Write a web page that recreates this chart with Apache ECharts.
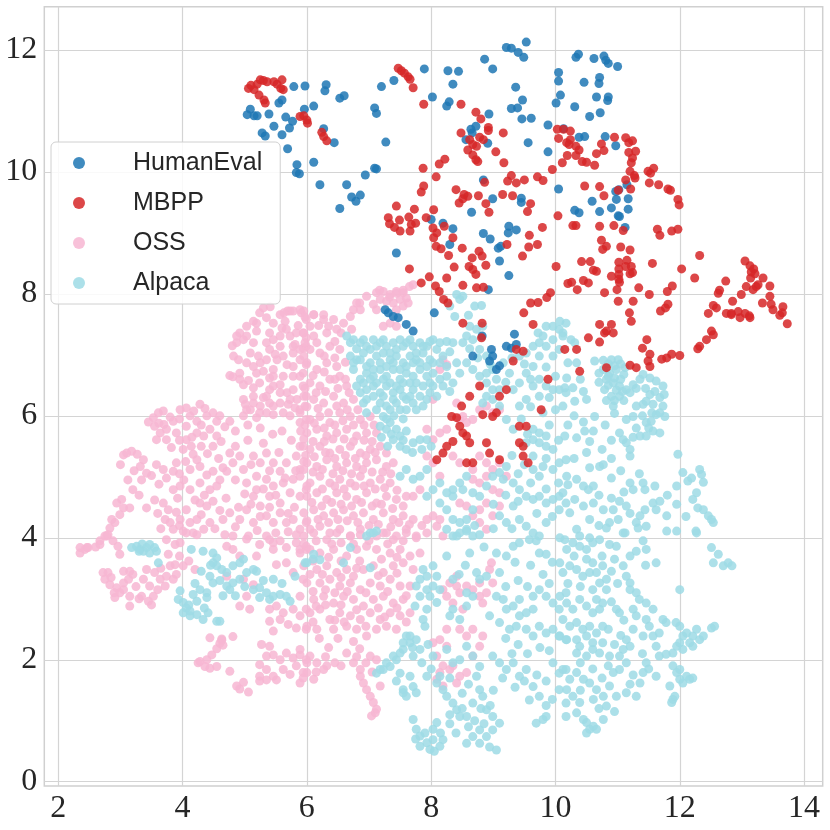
<!DOCTYPE html>
<html>
<head>
<meta charset="UTF-8">
<title>HumanEval / MBPP / OSS / Alpaca</title>
<script src="https://cdn.jsdelivr.net/npm/echarts@6/dist/echarts.min.js"></script>
<style>
  html, body { margin: 0; padding: 0; background: #fff; }
  #main { width: 830px; height: 830px; }
</style>
</head>
<body>
<div id="main"></div>
<script>
// tick values
var xTicks = [2, 4, 6, 8, 10, 12, 14];
var yTicks = [0, 2, 4, 6, 8, 10, 12];

// legend order
var seriesNames = ['HumanEval', 'MBPP', 'OSS', 'Alpaca'];

// HumanEval points
var humanEval = [
  [5.79,11.40],[5.55,11.13],[5.60,11.18],[5.04,10.94],[5.09,11.03],[5.15,10.92],[5.20,10.92],[5.39,10.95],[5.66,10.90],[5.77,10.83],
  [5.72,10.72],[5.47,10.75],[5.28,10.64],[5.33,10.59],[5.60,10.61],[5.69,10.38],[5.84,10.12],[5.83,9.99],[5.88,9.97],
  [5.97,11.41],[6.31,11.43],[6.29,11.33],[6.53,11.21],[6.60,11.25],[7.20,11.40],[7.40,11.50],[7.89,11.69],[8.27,11.66],[8.44,11.65],
  [8.35,11.44],[8.02,11.23],[8.29,11.15],[8.25,11.08],[8.86,11.85],[8.99,11.69],[9.21,12.04],[9.29,12.03],[9.40,11.96],[9.49,11.88],
  [9.53,12.13],[9.36,11.39],[9.47,11.18],[9.29,11.04],[9.39,11.05],[9.46,10.87],[9.61,10.88],[8.93,10.95],[8.64,10.70],[8.72,10.75],
  [8.56,10.53],[8.91,10.47],[8.66,10.64],[9.56,10.48],[9.88,10.77],[9.88,10.33],[5.96,11.03],[6.11,11.08],[6.27,10.71],[6.44,10.48],
  [7.09,11.05],[7.12,10.96],[7.27,10.49],[6.11,10.16],[6.21,9.79],[6.64,9.79],[6.72,9.59],[6.79,9.52],[6.86,9.62],[6.53,9.40],
  [6.94,9.95],[7.09,10.06],[7.12,10.05],[7.44,8.67],[8.84,9.87],[8.99,9.56],[8.65,9.34],[8.00,9.22],[8.19,9.16],[8.35,9.07],
  [8.30,8.81],[8.84,8.99],[8.95,8.90],[9.08,8.75],[9.12,8.78],[9.25,9.11],[9.24,9.00],[9.37,9.05],[9.10,8.54],[9.25,8.30],
  [8.92,8.07],[8.05,7.69],[9.45,9.57],[9.45,9.50],
  [10.33,11.88],[10.37,11.93],[10.62,11.86],[10.78,11.90],[10.81,11.83],[10.85,11.78],[11.00,11.73],[10.05,11.63],[10.05,11.49],[10.08,11.26],
  [10.01,11.13],[10.46,11.47],[10.71,11.55],[10.70,11.45],[10.66,11.23],[10.85,11.23],[10.84,11.17],[10.31,11.07],[10.55,10.91],[10.72,10.97],
  [10.13,10.71],[10.38,10.57],[10.47,10.58],[10.80,10.58],[10.97,10.43],[10.05,9.72],[10.97,9.68],[11.02,9.71],[11.15,9.79],[10.59,9.52],
  [10.98,9.55],[11.17,9.56],[10.31,9.37],[10.38,9.33],[10.71,9.35],[10.90,9.41],[11.17,9.39],[11.01,9.28],[11.03,9.27],[11.12,9.09],
  [7.26,7.74],[7.31,7.69],[7.39,7.63],[7.47,7.61],[7.60,7.50],[7.71,7.39],[8.82,7.31],[9.34,7.34],[9.21,7.14],[9.29,7.11],
  [9.37,7.17],[8.97,7.09],[8.99,6.98],[8.94,6.90],[8.67,6.98],[9.10,6.82],[9.05,6.76]
];

// MBPP points
var mbpp = [
  [5.06,11.37],[5.15,11.35],[5.25,11.51],[5.36,11.48],[5.31,11.18],[5.33,11.13],[5.47,11.48],[5.60,11.51],[5.58,11.37],[5.62,11.35],
  [5.23,11.26],[5.10,11.42],[5.20,11.44],[5.30,11.50],[5.52,11.44],
  [5.89,10.91],[5.95,10.92],[6.00,10.85],[6.01,10.80],[6.24,10.65],[6.27,10.58],[6.32,10.51],[7.47,11.70],[7.52,11.66],[7.57,11.62],
  [7.63,11.56],[7.66,11.52],[7.71,11.38],[7.88,11.11],[8.48,11.11],[8.72,10.98],[8.80,10.87],[8.92,10.73],[8.92,10.68],[9.16,10.64],
  [8.48,10.64],[8.62,10.53],[8.67,10.45],[8.73,10.42],[8.78,10.57],[8.84,10.53],[8.59,10.36],[8.67,10.28],[8.72,10.20],[8.75,10.17],
  [9.04,10.33],[9.17,10.15],[8.13,10.13],[8.22,10.21],[7.87,10.06],[8.08,9.92],[7.88,9.77],[7.84,9.67],[8.40,9.71],[8.53,9.63],
  [8.45,9.49],[8.51,9.56],[8.59,9.60],[8.76,9.61],[8.88,9.48],[8.93,9.34],[9.15,9.63],[9.31,9.61],[8.86,9.83],[9.23,9.85],
  [9.29,9.94],[9.37,9.82],[9.50,9.87],[9.71,9.92],[9.80,9.86],[9.60,9.48],[9.55,9.35],[7.44,9.44],[7.73,9.39],[7.64,9.26],
  [7.49,9.21],[7.31,9.25],[7.33,9.15],[7.41,9.09],[7.50,9.03],[7.68,9.14],[7.75,9.16],[7.66,9.03],[7.92,9.25],[8.04,9.38],
  [8.03,9.08],[8.09,9.00],[8.04,8.92],[8.21,9.11],[8.35,8.92],[8.08,8.78],[8.16,8.74],[8.28,8.63],[8.50,8.75],[8.77,8.70],
  [8.82,8.62],[8.66,8.59],[8.61,8.45],[8.67,8.40],[8.72,8.32],[8.88,8.47],[8.37,8.44],[8.25,8.26],[7.65,8.41],[7.84,8.18],
  [7.97,8.28],[8.07,8.13],[8.13,8.04],[8.51,8.14],[8.73,8.10],[8.84,8.11],[8.20,7.91],[8.27,7.85],[9.47,8.62],[9.22,8.81],
  [9.57,8.77],[9.71,8.81],[9.79,9.09],[9.58,8.96],[9.49,7.69],[9.60,7.85],[9.72,7.86],
  [8.51,7.52],[8.82,7.52],[8.81,7.28],[9.64,7.50],[9.32,6.90],[9.88,6.60],[9.77,6.10],[9.21,6.43],[9.10,6.32],[8.78,6.49],
  [8.62,6.32],[8.49,6.16],[8.33,5.99],[8.41,5.97],[8.46,5.83],[8.51,5.72],[8.35,5.58],[8.25,5.50],[8.19,5.39],[8.09,5.28],
  [8.57,5.67],[8.62,5.56],[8.67,5.23],[8.57,5.23],[8.89,5.56],[8.94,5.39],[9.10,5.28],[9.42,5.56],[9.48,5.50],[9.42,5.83],
  [9.53,5.83],[9.48,5.34],[9.56,5.23],[9.05,6.05],[8.99,5.99],[8.83,6.02],[9.37,7.09],[9.48,7.06],
  [10.03,10.70],[10.13,10.70],[10.24,10.67],[10.05,10.55],[10.18,10.48],[10.24,10.53],[10.22,10.45],[10.33,10.42],[10.38,10.36],[10.33,10.27],
  [10.19,10.27],[10.43,10.17],[10.50,10.16],[10.63,10.11],[10.11,10.15],[9.95,10.04],[10.66,10.30],[10.74,10.46],[10.78,10.35],[10.95,10.57],
  [11.13,10.56],[11.18,10.48],[11.24,10.51],[11.18,10.32],[11.29,10.34],[11.24,10.23],[11.22,10.15],[11.20,10.01],[11.27,9.94],[11.28,9.90],
  [11.13,9.87],[11.21,9.72],[11.49,10.01],[11.58,10.06],[11.53,9.98],[11.51,9.82],[11.66,9.79],[11.81,9.72],[11.85,9.70],[11.97,9.55],
  [11.99,9.46],[10.47,9.77],[10.71,9.76],[10.78,9.61],[11.01,9.70],[10.04,9.28],[10.28,9.12],[10.33,9.12],[10.71,9.11],[10.94,9.12],
  [11.09,9.04],[11.64,9.06],[11.68,8.96],[11.87,9.03],[11.97,9.06],[10.74,8.88],[10.82,8.78],[10.76,8.73],[11.05,8.77],[11.20,8.72],
  [10.01,8.45],[10.42,8.53],[10.56,8.53],[10.61,8.39],[10.66,8.37],[11.02,8.52],[11.15,8.55],[11.02,8.41],[11.13,8.45],[11.22,8.45],
  [11.24,8.35],[11.20,8.33],[11.02,8.32],[11.02,8.24],[10.90,8.29],[11.03,8.19],[10.99,8.07],[11.56,8.50],[10.20,8.17],[10.26,8.19],
  [10.45,8.22],[10.53,8.18],[10.35,8.07],[10.79,8.02],[11.34,8.10],[11.51,7.99],[11.80,8.04],[11.88,8.13],[12.32,8.63],[12.03,8.41],
  [12.24,8.26],[9.92,8.02],[9.86,7.94],[11.01,7.88],[11.25,7.88],[11.69,7.72],[11.81,7.83],[11.77,7.77],[11.19,7.69],
  [13.05,8.54],[13.13,8.46],[13.19,8.41],[13.15,8.36],[13.14,8.26],[13.21,8.33],[13.34,8.26],[13.45,8.13],[13.26,8.15],[13.23,8.12],
  [13.18,8.07],[13.07,8.12],[12.99,7.99],[13.45,7.96],[13.33,7.85],[13.47,7.83],[13.50,7.74],[13.66,7.79],[13.65,7.69],[13.61,7.65],
  [12.74,8.21],[12.64,8.06],[12.62,8.01],[12.85,7.88],[12.54,7.81],[12.59,7.77],[12.46,7.68],[12.75,7.68],[12.83,7.68],[12.94,7.71],
  [13.05,7.68],[13.12,7.64],[13.13,7.61],[12.97,7.61],[12.83,7.66],
  [11.22,7.55],[10.71,7.50],[10.90,7.50],[10.82,7.39],[10.93,7.36],[10.79,7.36],[10.53,7.28],[10.71,7.21],[10.15,7.09],[10.34,7.09],
  [10.39,6.73],[11.47,7.25],[11.40,7.11],[11.52,7.01],[11.49,6.90],[11.52,6.81],[11.30,6.79],[11.71,6.93],[11.79,6.95],[11.87,7.01],
  [12.00,6.99],[12.51,7.39],[12.54,7.33],[12.43,7.25],[12.32,7.14],[12.29,7.10],[13.73,7.51],[11.20,6.83],[10.82,6.79]
];

// OSS points
var oss = [
  [5.30,7.77],[5.41,7.79],[5.57,7.66],[5.69,7.72],[5.78,7.72],[5.91,7.69],[5.99,7.58],[5.14,7.55],[5.19,7.52],[5.35,7.61],
  [5.65,7.55],[5.60,7.44],[5.86,7.48],[5.94,7.36],[4.92,7.36],[4.98,7.25],[4.87,7.20],[4.80,7.15],[5.03,7.31],[5.19,7.39],
  [5.40,7.36],[5.46,7.25],[5.73,7.31],[5.81,7.17],[5.78,7.03],[5.94,7.11],[5.99,7.28],[5.09,7.03],[5.22,6.98],[5.40,7.09],
  [5.49,7.01],[5.57,7.14],[5.52,6.92],[5.68,6.84],[5.89,6.92],[5.99,6.84],[4.90,6.92],[5.25,6.87],[5.30,6.73],[5.46,6.76],
  [5.40,6.62],[5.19,6.70],[4.76,6.66],[4.81,6.64],[4.92,6.60],[5.06,6.58],[5.14,6.46],[4.98,6.51],[5.46,6.49],[5.57,6.51],
  [5.68,6.38],[5.78,6.43],[5.94,6.49],[5.84,6.27],[5.97,6.16],[4.98,6.27],[5.01,6.19],[5.09,6.10],[5.14,6.21],[5.25,6.16],
  [5.30,6.30],[5.40,6.21],[5.46,6.02],[5.62,6.05],[5.70,6.19],[5.81,6.13],[4.98,6.00],[5.19,5.97],[5.35,6.05],[5.73,6.00],
  [5.89,5.89],[5.99,5.94],
  [5.24,7.69],[5.46,7.52],[5.67,7.42],[5.83,7.36],[6.05,7.47],[5.03,7.47],[4.87,7.31],[5.14,7.20],[5.35,7.20],[5.57,7.31],
  [5.78,7.14],[5.99,7.14],[4.82,6.98],[5.03,6.87],[5.35,6.92],[5.62,6.98],[5.78,6.81],[5.94,6.70],[5.14,6.81],[5.46,6.65],
  [5.62,6.65],[5.78,6.65],[4.92,6.70],[5.24,6.54],[5.40,6.43],[5.57,6.38],[5.73,6.27],[5.99,6.32],[5.14,6.32],[5.35,6.32],
  [5.57,6.21],[5.89,6.10],[5.03,6.10],[5.24,6.05],[5.46,6.16],
  [3.53,5.97],[3.61,6.05],[3.69,6.08],[3.55,5.83],[3.64,5.72],[3.74,5.78],[3.58,5.61],[3.85,5.91],[3.90,5.72],[3.96,6.10],
  [4.06,6.13],[4.12,6.00],[4.23,5.91],[4.28,6.19],[4.39,6.00],[4.49,6.05],[4.55,5.91],[4.44,5.78],[4.23,5.72],[4.55,5.67],
  [4.34,5.67],[4.76,5.91],[4.06,5.83],[3.74,5.61],[4.06,5.61],[4.14,5.50],[4.49,5.50],
  [3.45,5.90],[3.62,5.88],[3.80,5.98],[3.70,5.86],[3.95,5.95],[4.18,6.08],[4.36,6.12],[4.60,6.00],[4.68,5.82],[4.30,5.85],
  [4.15,5.65],[3.95,5.60],[3.82,5.48],[4.30,5.50],[4.62,5.58],[4.40,5.38],[4.58,5.30],[4.05,5.25],[3.95,5.05],[4.12,5.12],
  [3.58,5.20],[3.50,5.02],[3.62,4.88],[4.02,4.95],[4.65,5.15],[4.55,4.85],[4.70,4.65],[4.60,4.45],[4.35,4.70],[4.20,4.62],
  [3.92,4.65],[3.55,4.62],[3.60,4.40],[3.90,4.42],[4.30,4.38],[4.52,4.15],[4.68,4.05],[3.65,4.15],[3.95,4.20],[3.30,4.70],
  [3.22,5.10],[3.00,5.20],[3.12,4.95],
  [3.10,5.39],[3.18,5.42],[3.27,5.37],[3.37,5.28],[3.32,5.17],[3.42,5.06],[3.34,4.95],[3.20,4.79],[3.05,5.36],
  [3.69,5.12],[3.85,5.09],[3.74,4.98],[3.90,5.23],[4.01,5.45],[4.17,5.37],[4.23,5.28],[4.28,5.17],[4.39,5.03],[4.49,5.09],
  [4.60,4.95],[4.44,4.79],[4.28,4.90],[4.12,4.79],[3.96,4.85],[3.85,4.79],
  [4.76,5.39],[4.81,5.23],[4.71,5.09],[4.92,5.34],[4.98,5.12],[5.14,5.34],[5.03,4.90],[5.19,5.01],[5.25,5.23],[5.35,5.39],
  [5.46,5.23],[5.57,5.09],[5.67,5.23],[5.83,5.34],[5.94,5.50],[5.89,5.12],[5.78,4.96],[5.62,4.90],[5.46,4.85],[5.35,4.96],
  [5.19,4.79],[5.14,4.68],[5.40,4.68],[5.57,4.57],[5.73,4.74],[5.89,4.68],[5.99,4.79],
  [4.85,5.50],[5.05,5.60],[5.30,5.55],[5.55,5.40],[5.75,5.60],[5.90,5.75],[5.60,5.75],[5.25,5.80],[5.05,5.85],[4.85,5.75],
  [5.45,5.70],[5.10,5.20],[5.40,5.10],[5.65,4.98],[5.82,5.10],[5.95,5.25],[4.85,4.95],[5.00,4.72],[5.30,4.80],[5.50,4.70],
  [5.80,4.50],[5.70,4.40],[5.40,4.50],[5.10,4.55],[4.90,4.50],[4.85,4.18],[5.20,4.12],[5.50,4.08],[5.70,4.10],[5.25,4.35],
  [2.94,4.57],[3.02,4.63],[3.05,4.49],[2.99,4.38],[2.91,4.25],[2.86,4.30],[2.83,4.16],[3.15,4.49],[3.42,4.49],
  [3.69,4.57],[3.77,4.46],[3.72,4.30],[3.80,4.25],[3.85,4.14],[3.96,4.30],[4.06,4.46],[4.12,4.25],[4.23,4.30],[4.28,4.57],
  [4.39,4.52],[4.49,4.60],[4.44,4.25],[4.34,4.14],[4.17,4.08],[4.01,4.11],
  [4.65,4.30],[4.76,4.41],[4.92,4.30],[5.03,4.46],[5.14,4.25],[5.25,4.52],[5.35,4.36],[5.46,4.25],[5.57,4.41],[5.67,4.25],
  [5.78,4.30],[5.89,4.14],[5.99,4.25],[4.81,4.03],[5.03,3.98],[5.35,4.03],[5.46,3.92],[5.83,3.92],[5.99,3.86],
  [2.67,3.95],[2.78,4.03],[2.46,3.84],[2.35,3.84],
  [2.35,3.75],[2.43,3.81],[2.48,3.84],[2.67,3.89],[2.75,4.03],[2.80,4.05],[2.96,3.86],[2.99,3.73],
  [2.72,3.43],[2.80,3.43],[2.75,3.32],[2.83,3.23],[2.94,3.18],[3.05,3.26],[3.13,3.32],[2.99,3.10],[3.15,3.04],[2.91,3.02],
  [3.15,2.88],[3.05,3.45],[3.15,3.45],[3.37,3.32],[3.47,3.21],[3.53,3.04],[3.45,2.96],[3.34,3.04],[3.42,3.48],[3.55,3.43],
  [3.64,3.32],[3.74,3.37],[3.72,3.21],[3.85,3.32],[3.90,3.40],[3.80,3.54],[3.88,3.56],[4.01,3.54],[4.20,3.48],[3.77,3.73],
  [3.74,3.97],[3.88,3.89],[3.96,3.92],[4.06,4.08],[4.23,4.05],
  [2.85,3.35],[2.90,3.10],[3.05,3.15],[3.25,3.20],[3.20,3.40],[3.60,3.15],[3.65,3.50],[3.95,3.70],[4.10,3.62],[3.30,3.00],
  [3.50,2.90],[2.60,3.85],[2.88,3.95],
  [4.71,3.86],[4.81,3.81],[4.92,3.70],[5.06,4.03],[5.19,3.70],[5.24,3.89],[5.40,3.97],[5.57,3.95],[5.46,3.81],[5.67,3.84],
  [5.83,4.05],[5.89,3.75],[5.99,3.81],[5.67,3.59],[5.51,3.56],[5.78,3.43],[5.94,3.32],[4.71,3.37],[4.98,3.32],[5.14,3.23],
  [5.03,3.04],[4.92,2.88],[5.08,2.83],[5.40,2.83],[5.51,2.88],[5.62,2.77],[5.78,2.83],[5.89,2.72],[5.99,2.83],[5.40,2.63],
  [5.57,2.66],[5.70,2.58],[5.83,2.52],[5.99,2.50],[5.46,2.47],
  [4.44,2.36],[4.63,2.34],[4.81,2.38],[4.60,2.27],[4.55,2.18],[4.47,2.08],[4.39,2.00],[4.28,1.97],[4.25,1.95],[4.36,1.89],
  [4.44,1.86],[4.55,1.89],[4.76,1.81],[4.63,2.32],[4.65,2.24],[4.87,1.57],[4.92,1.52],[4.98,1.63],[5.06,1.47],
  [5.27,2.25],[5.40,2.22],[5.35,2.06],[5.46,2.08],[5.57,2.00],[5.67,2.11],[5.78,2.03],[5.89,2.08],[5.99,2.00],[5.24,1.92],
  [5.35,1.84],[5.46,1.73],[5.62,1.84],[5.73,1.76],[5.83,1.90],[5.94,1.79],[5.24,1.73],[5.35,1.67],[5.51,1.67],[5.24,1.65],
  [5.94,1.70],
  [7.12,8.02],[7.23,8.04],[7.34,7.99],[7.44,8.04],[7.55,8.02],[7.60,7.93],[7.50,7.91],[7.39,7.85],[7.28,7.88],[7.18,7.91],
  [7.07,7.83],[7.12,7.74],[7.44,7.74],[7.55,7.80],[7.63,7.85],[7.34,7.52],[7.44,7.47],[7.23,7.47],
  [7.17,8.06],[7.33,7.95],[7.44,8.01],[7.55,8.06],[7.65,8.12],[7.71,8.15],[6.85,7.85],[6.75,7.74],[6.27,7.66],[6.11,7.66],
  [5.95,7.72],[5.73,7.72],[5.63,7.69],
  [5.89,7.74],[6.11,7.66],[6.27,7.58],[6.43,7.58],[5.95,7.36],[6.11,7.31],[6.32,7.36],[6.48,7.42],[6.59,7.52],[6.70,7.63],
  [6.80,7.85],[6.86,7.74],[6.96,7.96],[5.89,7.09],[6.05,7.09],[6.21,7.03],[6.37,7.14],[6.53,7.09],[6.00,6.87],[6.16,6.76],
  [6.32,6.87],[6.48,6.81],[5.89,6.65],[6.05,6.54],[6.21,6.49],[6.37,6.60],[6.53,6.65],[6.64,6.49],[5.95,6.32],[6.11,6.27],
  [6.27,6.21],[6.43,6.32],[6.59,6.21],[6.75,6.27],[5.89,6.05],[6.05,5.94],[6.21,5.99],[6.37,5.89],[6.53,6.05],[6.70,5.99],
  [6.86,5.94],[7.02,5.99],[6.00,5.72],[6.16,5.78],[6.32,5.67],[6.48,5.72],[6.64,5.78],[6.80,5.67],[6.96,5.72],[7.12,5.72],
  [5.89,5.50],[6.05,5.45],[6.21,5.50],[6.37,5.39],[6.53,5.45],[6.70,5.50],[6.86,5.39],[7.02,5.45],[7.18,5.50],[7.28,5.39],
  [6.00,5.23],[6.16,5.17],[6.32,5.28],[6.48,5.17],[6.64,5.23],[6.80,5.17],[6.96,5.23],[7.12,5.28],[7.28,5.17],[7.39,5.23],
  [5.89,5.01],[6.05,4.90],[6.21,5.01],[6.37,4.90],[6.53,4.96],[6.70,4.90],[6.86,5.01],[7.02,4.90],[7.18,4.96],[7.34,4.90],
  [6.00,4.68],[6.16,4.74],[6.32,4.63],[6.48,4.74],[6.64,4.68],[6.80,4.63],[6.96,4.74],[7.12,4.57],[7.28,4.68],[7.44,4.63],
  [7.60,4.68],[5.95,4.41],[6.11,4.46],[6.27,4.36],[6.43,4.41],[6.59,4.46],[6.75,4.36],[6.91,4.41],[7.07,4.30],[7.23,4.41],
  [7.39,4.30],[7.55,4.36],[7.71,4.30],[6.05,4.14],[6.21,4.19],[6.37,4.08],[6.53,4.14],[6.70,4.03],[6.86,4.14],[7.12,4.03],
  [7.28,4.08],[7.44,4.03],[7.60,4.14],[7.76,4.03],[7.93,4.08],[8.09,4.19],[8.19,4.03],
  [5.97,7.62],[6.19,7.48],[6.35,7.47],[6.55,7.36],[6.72,7.42],[5.97,7.20],[6.16,7.20],[6.45,7.22],[6.28,6.98],[6.45,6.95],
  [6.62,6.88],[5.95,6.98],[6.10,6.66],[6.28,6.72],[6.45,6.60],[6.62,6.60],[5.97,6.45],[6.15,6.38],[6.30,6.40],[6.50,6.45],
  [6.68,6.38],[6.00,6.15],[6.18,6.12],[6.35,6.05],[6.48,6.16],[6.65,6.10],[6.82,6.10],[5.97,5.85],[6.12,5.88],[6.28,5.80],
  [6.45,5.85],[6.58,5.92],[6.75,5.85],[6.92,5.85],[7.08,5.85],[5.95,5.62],[6.10,5.58],[6.28,5.58],[6.42,5.62],[6.60,5.62],
  [6.75,5.58],[6.92,5.60],[7.05,5.58],[5.98,5.35],[6.12,5.33],[6.30,5.40],[6.45,5.30],[6.62,5.35],[6.78,5.30],[6.95,5.35],
  [7.10,5.40],[5.95,5.12],[6.10,5.08],[6.25,5.12],[6.42,5.05],[6.58,5.10],[6.72,5.05],[6.90,5.12],[7.05,5.08],[7.22,5.08],
  [7.35,5.05],[6.00,4.85],[6.25,4.80],[6.45,4.85],[6.60,4.80],[6.78,4.85],[6.92,4.85],[7.10,4.80],[7.25,4.82],[7.45,4.78],
  [6.08,4.58],[6.24,4.52],[6.40,4.58],[6.55,4.55],[6.72,4.52],[6.88,4.58],[7.05,4.52],[7.20,4.55],[7.38,4.48],[7.55,4.52],
  [6.00,4.28],[6.18,4.30],[6.35,4.25],[6.50,4.30],[6.65,4.28],[6.82,4.25],[7.00,4.20],[7.15,4.22],[7.35,4.18],[7.48,4.25],
  [7.65,4.22],[7.85,4.20],
  [8.19,6.92],[8.25,6.84],[8.14,6.76],[8.03,6.27],[8.41,6.21],[8.51,5.99],[8.46,5.94],[8.57,5.89],[8.67,5.94],[8.78,6.10],
  [8.89,6.16],[8.99,6.05],[9.10,6.10],[7.93,5.78],[8.03,5.61],[8.14,5.72],[8.25,5.78],[8.35,5.34],[8.46,5.23],[8.67,5.12],
  [8.78,5.34],[8.89,5.23],[8.99,5.12],[9.10,5.23],[9.21,5.01],[8.89,5.01],[8.78,4.90],[8.67,4.96],[8.99,4.79],[9.10,4.74],
  [8.89,4.57],[8.78,4.46],[8.99,4.36],[9.10,4.52],[7.93,5.34],[8.03,5.23],[8.14,5.01],[8.03,4.36],[8.14,4.30],[7.93,4.30],
  [7.82,4.79],[7.71,4.68],[8.46,4.57],[8.57,4.52],[8.67,4.36],[8.78,4.25],[8.89,4.14],
  [5.95,4.03],[6.11,4.08],[6.32,3.97],[6.48,4.08],[6.70,4.03],[6.86,4.05],[7.23,4.08],[7.39,3.97],[7.60,4.08],[7.76,4.00],
  [5.89,3.81],[6.05,3.81],[6.21,3.75],[6.43,3.81],[6.64,3.70],[6.80,3.81],[6.96,3.86],[7.12,3.81],[7.34,3.75],[7.50,3.81],
  [7.66,3.70],[7.82,3.75],[5.95,3.54],[6.16,3.48],[6.32,3.54],[6.48,3.43],[6.64,3.48],[6.75,3.37],[6.91,3.48],[7.07,3.54],
  [7.23,3.43],[7.39,3.54],[7.55,3.59],[7.71,3.48],[6.00,3.26],[6.21,3.26],[6.37,3.32],[6.53,3.21],[6.70,3.26],[6.86,3.15],
  [7.02,3.26],[7.18,3.21],[7.34,3.32],[7.50,3.21],[7.66,3.21],[5.89,3.04],[6.11,2.99],[6.27,3.04],[6.43,2.93],[6.59,3.04],
  [6.75,2.99],[6.91,2.88],[7.07,2.99],[7.23,3.04],[7.39,2.93],[7.55,2.99],[6.05,2.77],[6.21,2.83],[6.37,2.66],[6.53,2.77],
  [6.70,2.72],[6.86,2.66],[7.02,2.77],[7.18,2.66],[7.34,2.77],[7.50,2.72],[7.66,2.77],[6.00,2.55],[6.16,2.50],[6.43,2.50],
  [6.64,2.55],[6.80,2.50],[6.96,2.39],[7.12,2.50],[7.28,2.55],[7.44,2.50],[5.89,2.17],[6.05,2.06],[6.16,1.95],[6.27,1.84],
  [6.00,1.79],[6.11,1.68],[5.89,1.62],[6.32,1.90],[6.64,2.11],[6.75,1.95],[6.86,1.84],[7.02,2.06],[7.12,2.00],[6.91,1.62],
  [6.96,1.51],[7.02,1.40],[7.07,1.30],[7.10,1.13],[7.12,1.19],[7.04,1.08],[7.18,1.57],[6.86,1.73],
  [5.95,3.90],[6.15,3.95],[6.40,3.90],[6.55,3.92],[6.75,3.90],[7.00,3.95],[7.30,3.90],[7.55,3.95],[6.10,3.62],[6.35,3.68],
  [6.55,3.62],[6.85,3.62],[7.20,3.65],[7.45,3.68],[6.05,3.40],[6.25,3.40],[6.55,3.35],[6.80,3.50],[7.15,3.38],[7.45,3.42],
  [6.10,3.12],[6.30,3.15],[6.45,3.10],[6.65,3.12],[6.95,3.10],[7.30,3.12],[7.60,3.05],[6.15,2.88],[6.30,2.90],[6.55,2.90],
  [6.80,2.82],[7.15,2.85],[7.45,2.85],[6.10,2.62],[6.45,2.65],[6.60,2.62],[6.95,2.55],[7.25,2.70],[7.60,2.62],[6.20,2.35],
  [6.35,2.20],[6.50,2.35],[6.75,2.30],[6.85,2.18],[6.30,2.05],[6.45,1.95],[6.00,1.95],[6.15,1.80],[6.55,1.90],[7.05,1.80],
  [6.95,1.95],[6.80,2.05],
  [8.19,3.15],[8.30,3.26],[8.41,3.21],[8.25,3.04],[8.35,2.93],[8.46,3.10],[8.57,3.21],[8.67,3.15],[8.78,3.04],[8.89,3.10],
  [8.94,3.48],[8.97,3.59],[8.99,3.26],[8.83,2.93],[8.46,2.50],[8.25,2.50],[8.14,2.33],[8.25,2.22],[8.03,2.28],[8.09,2.06],
  [8.19,1.90],[8.14,1.79],[8.30,1.84],[8.46,1.73],[8.57,1.79],[8.67,2.06],[8.78,2.22],[8.67,2.50],[8.83,2.39],[8.57,2.39],
  [8.41,1.62],[8.19,1.57],[8.09,1.68],[8.35,1.90],[8.78,3.26],[8.51,2.83],[8.41,3.37]
];

// Alpaca points
var alpaca = [
  [3.18,3.84],[3.26,3.86],[3.31,3.81],[3.37,3.78],[3.42,3.84],[3.47,3.89],[3.55,3.84],[3.58,3.78],[3.47,3.75],[3.61,3.59],
  [3.35,3.90],[3.30,3.78],
  [4.14,3.81],[4.33,3.78],[4.49,3.75],[4.55,3.67],[4.49,3.59],[4.55,3.54],[4.63,3.48],[4.44,3.37],[4.49,3.26],[4.39,3.10],
  [4.28,3.15],[3.96,3.13],[3.93,2.99],[4.01,2.94],[4.06,2.85],[4.12,2.72],[4.23,2.74],[4.33,2.66],[4.41,2.77],[4.55,2.63],
  [4.60,2.63],[4.17,3.07],[4.23,2.96],[4.39,3.02],[4.01,2.77],[4.12,2.80],
  [4.60,3.30],[4.65,3.05],[4.85,3.05],[5.00,3.20],[5.30,3.30],[5.60,3.25],[4.30,3.45],[4.20,3.25],[4.45,3.55],[4.10,2.90],
  [4.35,2.85],
  [4.71,3.21],[4.76,3.15],[4.81,3.26],[4.92,3.32],[5.03,3.43],[5.14,3.48],[5.19,3.45],[4.92,3.59],[4.98,3.65],[4.81,3.54],
  [4.71,3.43],[5.14,3.15],[5.24,3.18],[5.35,3.10],[5.46,3.04],[5.57,3.07],[5.67,3.04],[5.73,2.96],[5.40,2.99],[5.24,3.02],
  [5.46,3.32],[5.81,3.37],[5.97,3.59],[6.10,3.65],
  [7.02,4.08],[7.12,4.11],[8.35,4.03],[8.46,4.08],[8.57,4.11],[8.67,4.03],[8.78,4.05],[6.70,3.84],[6.59,3.59],[6.11,3.73],
  [6.00,3.59],[6.21,3.64],[7.02,3.51],
  [7.87,3.48],[7.93,3.37],[8.03,3.54],[7.82,3.32],[7.76,3.21],[7.93,3.15],[8.03,3.21],[8.14,3.15],[8.09,3.37],[7.98,3.04],
  [7.82,3.04],[7.74,2.88],[7.93,2.83],[7.87,2.66],[7.90,2.55],[8.09,2.94],
  [8.25,3.70],[8.35,3.32],[8.62,3.75],[8.73,3.43],[8.78,3.32],[8.57,3.10],[8.67,3.04],[8.35,2.83],[8.46,2.66],[8.30,2.72],
  [8.57,2.88],[8.89,3.37],[9.10,3.43],[9.21,3.70],[9.32,3.86],[9.42,3.92],[9.58,3.97],[9.69,3.95],[9.74,3.75],[9.85,3.73],
  [9.05,3.04],[9.16,2.99],[9.21,2.83],[9.32,2.88],[9.42,2.72],[9.53,2.77],[9.64,2.83],[9.42,2.99],[9.64,3.04],[9.74,3.15],
  [9.85,3.04],[9.96,2.93],[10.06,2.83],[10.17,3.10],[8.94,2.72],[9.10,2.61],[9.26,2.50],[9.37,2.55],[9.53,2.50],[9.64,2.39],
  [9.74,2.55],[9.85,2.44],[9.96,2.50],[10.06,2.39],[10.17,2.33],
  [9.20,3.20],[9.40,3.30],[9.55,3.20],[9.80,3.40],[9.95,3.60],[9.60,3.55],[9.35,3.60],[9.05,3.75],[8.85,3.85],[8.55,3.55],
  [8.45,3.40],[9.90,3.25],[9.20,2.35],[9.40,2.25],[9.55,2.10],[9.75,2.20],[9.90,2.15],[9.30,2.10],[9.15,1.70],[9.35,1.55],
  [9.50,1.65],[9.70,1.75],[9.85,1.65],[9.95,1.35],[9.85,1.25],[9.00,1.50],
  [7.60,2.39],[7.66,2.28],[7.76,2.33],[7.82,2.17],[7.71,2.06],[7.55,2.17],[7.44,2.00],[7.34,1.89],[7.23,1.84],[7.12,1.78],
  [7.50,1.78],[7.66,1.73],[7.55,1.51],[7.60,1.40],[7.71,1.56],[7.76,1.46],
  [7.93,1.73],[8.03,2.06],[8.09,1.62],[8.14,1.73],[8.19,1.51],[8.25,1.40],[8.35,1.29],[8.41,1.18],[8.46,1.07],[8.57,1.07],
  [8.67,1.29],[8.78,1.51],[8.83,1.40],[8.89,1.18],[8.99,1.07],[9.10,0.96],[8.99,0.85],[8.89,0.74],[8.78,0.85],[8.67,0.74],
  [8.57,0.63],[8.78,0.63],[8.94,0.57],[9.05,0.52],[8.25,2.17],[8.35,1.95],[8.46,2.00],[8.67,2.06],[8.57,2.22],[8.78,1.89],
  [8.73,1.73],
  [8.30,1.10],[8.50,1.20],[8.60,0.90],[8.70,1.00],[8.85,0.95],[8.40,0.80],[8.30,0.95],[8.95,1.25],[8.80,1.20],[8.50,1.45],
  [8.60,1.60],[8.30,1.70],[8.00,1.85],[7.95,2.25],[7.70,2.20],[7.85,1.95],[7.90,0.80],[7.75,0.70],[8.05,0.50],[8.15,0.80],
  [7.71,1.02],[7.76,0.86],[7.82,0.75],[7.93,0.64],[8.03,0.69],[8.14,0.58],[7.82,0.58],[7.98,0.53],[8.19,0.69],[8.03,0.86],
  [8.09,0.97],
  [8.99,2.06],[9.10,1.95],[9.21,1.84],[9.32,1.95],[9.42,1.73],[9.53,1.84],[9.64,1.56],[9.74,1.40],[9.58,1.34],[9.69,0.96],
  [9.80,1.02],[9.85,1.07],[9.96,1.95],[10.06,1.78],[10.17,1.84],[10.06,1.51],[10.17,1.29],[10.17,1.07],
  [7.18,1.84],[7.28,1.95],[7.39,2.06],[7.50,2.11],[7.55,2.28],[7.66,2.39],[7.44,1.65],[7.55,1.46],
  [8.41,7.99],[8.51,7.96],[8.46,7.91],[8.70,7.80],[8.81,7.81],[8.38,7.63],[8.62,7.47],[8.73,7.42],[8.83,7.47],[8.57,7.31],
  [8.67,7.25],[8.51,7.20],[8.78,7.09],[8.89,6.98],[9.85,7.47],[9.96,7.47],[10.06,7.42],[10.12,7.31],[9.96,7.25],[9.80,7.31],
  [9.72,7.36],[10.17,7.52],[8.60,7.65],[8.30,7.80],
  [6.64,7.31],[6.75,7.25],[6.86,7.20],[6.96,7.14],[7.07,7.25],[7.18,7.20],[7.28,7.14],[7.39,7.20],[7.50,7.25],[7.60,7.20],
  [7.71,7.14],[7.82,7.20],[7.93,7.14],[8.03,7.25],[8.14,7.20],[8.25,7.22],[8.35,7.20],[6.70,6.98],[6.80,6.92],[6.91,7.03],
  [7.02,6.87],[7.12,6.98],[7.23,7.03],[7.34,6.92],[7.44,6.98],[7.55,6.87],[7.66,6.98],[7.76,6.92],[7.87,7.03],[7.98,6.92],
  [6.75,6.76],[6.86,6.60],[6.96,6.70],[7.07,6.65],[7.18,6.76],[7.28,6.65],[7.39,6.76],[7.50,6.60],[7.60,6.70],[7.71,6.65],
  [7.82,6.76],[7.93,6.65],[8.03,6.70],[8.14,6.60],[8.25,6.65],[8.35,6.54],[8.46,6.70],[6.96,6.43],[7.07,6.49],[7.18,6.38],
  [7.28,6.49],[7.39,6.38],[7.50,6.43],[7.60,6.27],[7.71,6.43],[7.82,6.32],[8.03,6.49],[8.09,6.32],[6.86,6.38],[6.96,6.27],
  [7.18,6.21],[7.28,6.16],[7.39,6.27],[7.50,6.10],[7.60,6.10],[7.71,6.21],[7.23,5.99],[7.34,5.89],[7.44,5.78],[7.50,5.67],
  [7.39,5.61],[7.28,5.78],[7.18,5.83],[7.50,5.50],[7.60,5.45],[7.71,5.56],[7.82,5.61],[7.93,5.61],[6.96,6.05],[7.93,6.27],
  [6.70,7.20],[6.80,7.10],[6.91,7.25],[7.02,7.09],[7.12,7.14],[7.23,7.25],[7.34,7.03],[7.44,7.09],[7.55,7.14],[7.66,7.25],
  [7.76,7.03],[7.87,7.14],[7.98,7.22],[8.09,7.09],[8.19,6.98],[8.30,7.05],[6.75,6.87],[6.86,6.92],[6.96,6.81],[7.07,6.76],
  [7.18,6.87],[7.28,6.81],[7.39,6.87],[7.50,6.76],[7.60,6.81],[7.71,6.87],[7.82,6.87],[7.93,6.81],[8.03,6.87],[8.14,6.87],
  [8.25,6.81],[8.41,6.87],[6.80,6.49],[6.91,6.54],[7.02,6.60],[7.12,6.54],[7.23,6.60],[7.34,6.54],[7.44,6.49],[7.55,6.54],
  [7.66,6.54],[7.76,6.54],[7.87,6.49],[7.98,6.54],[8.19,6.49],[8.30,6.40],[6.91,6.21],[7.07,6.32],[7.12,6.10],[7.23,6.32],
  [7.34,6.10],[7.44,6.21],[7.55,6.32],[7.66,6.32],[7.76,6.10],[7.87,6.16],[7.98,6.38],[7.28,5.95],[7.40,6.00],[7.55,5.95],
  [7.36,5.70],[7.60,5.75],[7.55,5.60],[7.70,5.40],[7.85,5.45],[8.00,5.50],[7.20,5.65],[7.30,5.50],
  [8.57,6.87],[8.67,6.76],[8.78,6.65],[8.89,6.70],[8.99,6.76],[9.16,6.87],[9.26,6.70],[8.89,6.54],[8.99,6.43],[9.10,6.43],
  [8.89,6.32],[8.83,6.21],[8.99,6.27],[9.10,6.16],[9.42,6.98],[9.53,7.03],[9.64,7.14],[9.74,7.20],[9.85,7.14],[9.96,6.98],
  [10.06,7.09],[9.74,6.98],[9.64,6.81],[9.53,6.70],[9.42,6.54],[9.32,6.43],[9.64,6.49],[9.74,6.32],[9.85,6.49],[9.96,6.43],
  [10.06,6.43],[10.17,6.38],[9.42,6.16],[9.53,6.27],[9.74,6.60],[9.21,5.94],[9.32,5.78],[9.64,5.78],[9.64,5.61],[9.74,5.56],
  [9.85,5.50],[9.96,5.45],[9.74,5.72],[9.85,5.67],[9.53,5.56],[9.64,5.34],[9.80,5.17],[9.96,5.12],[10.06,5.23],[10.17,5.28],
  [9.74,5.01],[9.64,5.12],[9.21,5.17],[9.10,5.07],[8.99,5.01],[9.16,4.96],[9.32,4.90],[9.42,4.79],[9.53,4.68],[9.64,4.63],
  [9.74,4.68],[9.85,4.57],[9.96,4.63],[10.06,4.68],[10.17,4.57],[8.89,4.85],[8.57,5.01],[8.46,4.90],[8.35,4.79],[8.51,4.79],
  [8.67,4.74],[8.78,4.68],[9.32,4.52],[9.10,4.36],[9.21,4.25],[9.42,4.30],[9.53,4.19],[9.64,4.08],[9.74,4.03],[9.85,4.25],
  [10.06,4.46],
  [8.62,7.10],[8.75,6.95],[8.95,6.85],[9.05,6.60],[9.20,6.55],[9.30,6.95],[9.50,6.85],[9.60,6.60],[9.85,6.80],[10.00,6.65],
  [9.90,6.30],[9.60,6.15],[9.80,6.05],[10.00,6.10],[9.45,5.95],[9.55,5.70],[9.90,5.85],[10.05,5.60],[9.85,5.30],[9.50,5.20],
  [9.30,5.35],[9.40,5.05],[9.60,4.90],[9.85,4.80],[10.05,4.90],[9.20,4.70],[9.00,4.55],[9.40,4.60],[9.70,4.40],[9.95,4.35],
  [9.30,4.15],[9.00,4.15],[8.70,4.20],
  [7.50,5.01],[7.60,5.12],[7.71,4.96],[7.82,5.01],[7.93,5.12],[8.03,4.79],[8.14,4.90],[8.25,4.74],[8.35,4.68],[7.93,4.68],
  [8.14,4.57],[8.25,4.46],[8.35,4.30],[8.46,4.25],[8.57,4.14],[8.41,4.03],[8.25,4.14],[8.57,4.30],[8.67,4.46],[6.96,4.03],
  [7.07,4.08],
  [10.63,6.90],[10.77,6.91],[10.90,6.92],[11.01,6.92],[11.12,6.79],[10.77,6.76],[10.87,6.70],[10.98,6.76],[10.82,6.60],[10.93,6.54],
  [11.03,6.49],[10.79,6.43],[10.90,6.32],[11.03,6.32],[11.14,6.43],[11.20,6.38],[11.25,6.51],[11.36,6.60],[11.41,6.68],[11.52,6.62],
  [11.62,6.57],[11.73,6.49],[11.68,6.30],[11.52,6.35],[11.41,6.19],[11.46,6.24],[11.57,6.19],[11.73,6.16],[11.68,6.05],[11.76,5.99],
  [11.62,6.02],[11.54,5.91],[11.46,5.89],[11.36,5.67],[11.46,5.67],[11.57,5.75],[11.68,5.72],[11.14,5.94],[11.03,5.72],[11.09,5.61],
  [11.14,5.56],[11.20,5.45],[11.20,5.34],[10.93,6.16],[10.95,6.04],[11.25,5.99],[11.30,6.16],[10.63,5.99],[10.15,6.46],[10.28,6.46],
  [10.31,6.24],[10.12,6.16],[10.50,6.27],[10.18,6.62],[10.20,6.87],[10.34,6.87],[10.07,7.55],[10.12,7.36],[10.25,7.25],[10.31,7.20],
  [10.15,5.67],[10.34,5.64],[10.47,5.75],[10.61,5.75],[10.55,5.58],[11.97,5.37],
  [10.85,6.85],[10.95,6.82],[11.05,6.85],[10.85,6.65],[10.95,6.62],[11.05,6.60],[11.10,6.68],[10.85,6.50],[10.98,6.42],[11.08,6.40],
  [10.95,6.25],[10.82,6.25],[11.10,6.25],[11.30,6.45],[11.45,6.45],[11.60,6.40],[11.75,6.35],[11.55,6.05],[11.40,6.00],[11.30,5.80],
  [11.50,5.80],[11.25,5.65],[10.70,6.70],[10.70,6.55],[10.40,6.60],[10.45,6.40],[10.30,6.00],[10.45,5.90],[10.20,5.85],[10.80,5.85],
  [10.90,5.60],[10.75,5.45],[10.50,5.40],[10.30,5.30],[10.55,5.15],[10.90,5.30],[11.05,5.10],[11.35,5.05],[11.60,4.85],[11.80,4.70],
  [11.95,4.55],[12.10,4.35],[11.95,4.85],[11.10,4.75],[10.90,4.65],[10.70,4.70],[10.45,4.85],[10.55,4.30],[10.70,4.20],[11.20,4.40],
  [12.05,5.07],[12.13,4.93],[12.19,4.98],[12.32,5.12],[12.35,5.04],[12.38,4.91],[12.27,4.74],[12.21,4.63],[12.29,4.49],[12.38,4.46],
  [12.46,4.36],[12.51,4.30],[12.54,4.25],[11.95,4.11],[11.79,4.11],[12.26,4.11],[11.79,4.36],[11.44,4.79],[11.57,4.57],[11.68,4.60],
  [11.62,4.46],[11.44,4.46],[11.36,4.36],[11.30,4.25],[11.46,4.19],[11.12,4.08],[11.33,4.16],[11.41,4.90],[11.20,4.90],[11.25,4.79],
  [10.90,4.98],[10.71,5.17],[10.77,5.20],[10.61,4.85],[10.53,4.79],[10.45,4.52],[10.61,4.57],[10.77,4.46],[10.93,4.46],[11.03,4.60],
  [11.14,4.52],[10.87,4.25],[11.01,4.30],[10.82,4.16],[10.34,4.96],[10.18,5.01],[10.20,4.87],[10.31,4.63],[10.12,4.74],[10.23,4.41],
  [10.34,4.14],[10.15,3.97],[10.39,4.03],[10.55,4.00],[10.71,3.97],
  [10.07,4.00],[10.18,3.81],[10.28,3.92],[10.39,3.86],[10.50,3.81],[10.60,3.92],[10.87,3.89],[10.98,3.86],[11.09,4.08],[11.30,3.78],
  [11.46,3.81],[11.41,3.95],[11.62,3.59],[12.27,4.08],[12.51,3.84],[12.62,3.73],[12.54,3.59],[12.70,3.54],[12.78,3.59],[12.84,3.54],
  [10.07,3.59],[10.12,3.43],[10.23,3.54],[10.34,3.48],[10.44,3.37],[10.55,3.43],[10.60,3.59],[10.66,3.43],[10.76,3.54],[10.82,3.32],
  [10.71,3.26],[10.60,3.15],[10.82,3.15],[11.09,3.54],[11.14,3.37],[11.20,3.26],[11.20,3.15],[11.30,3.10],[11.35,2.99],[11.46,2.93],
  [11.57,2.83],[11.73,2.66],[11.78,2.61],[11.94,2.61],[12.00,3.15],[12.00,2.55],[11.25,2.83],
  [10.30,3.70],[10.50,3.65],[10.75,3.70],[10.95,3.65],[11.20,3.70],[11.45,3.55],[10.90,3.45],[11.00,3.25],[10.40,3.20],[10.20,3.25],
  [10.90,2.95],[11.10,2.65],[10.85,2.50],[11.25,2.50],[11.05,2.40],[10.95,2.25],[11.40,2.10],[11.50,1.85],[11.25,1.75],[10.75,1.70],
  [10.60,1.85],[10.40,1.95],[10.85,1.90],[11.20,1.60],[11.30,1.40],[10.95,1.15],[10.70,1.20],[10.40,1.50],
  [10.07,3.04],[10.18,2.93],[10.28,2.83],[10.39,2.99],[10.50,2.88],[10.60,2.77],[10.71,2.83],[10.76,2.93],[10.66,2.99],[10.12,2.66],
  [10.23,2.55],[10.34,2.61],[10.44,2.50],[10.55,2.55],[10.66,2.44],[10.76,2.55],[10.07,2.39],[10.18,2.33],[10.34,2.33],[10.50,2.39],
  [10.60,2.28],[10.76,2.28],[10.39,2.22],[10.98,2.83],[11.03,2.77],[11.30,2.72],[11.46,2.66],[11.51,2.55],[11.41,2.39],[11.57,2.39],
  [11.67,2.44],[11.62,2.22],[11.14,2.33],[11.20,2.22],[11.09,2.17],[11.03,2.06],[10.87,2.06],[10.71,2.11],[10.60,2.17],[10.34,2.11],
  [10.50,2.06],
  [11.67,2.06],[11.78,2.09],[11.89,2.11],[11.95,2.22],[12.00,2.28],[12.05,2.39],[12.11,2.44],[12.21,2.39],[12.27,2.50],[12.32,2.33],
  [12.16,2.28],[12.21,2.22],[12.38,2.39],[12.51,2.52],[12.56,2.55],[12.05,2.17],
  [11.89,1.90],[11.95,1.79],[12.00,1.68],[12.05,1.62],[12.11,1.73],[12.16,1.68],[12.21,1.70],[12.00,1.84],[11.84,1.57],[11.89,1.35],
  [11.87,1.30],[11.92,1.40],[11.62,1.73],[11.36,1.62],[11.41,1.79],[11.46,1.95],[11.14,1.95],[11.03,1.84],[10.93,1.79],[10.87,1.57],
  [10.77,1.40],[10.61,1.35],[10.66,1.51],[10.55,1.62],[10.45,1.68],[10.34,1.79],[10.23,1.68],[10.12,1.84],[10.18,1.51],[10.28,1.40],
  [10.39,1.30],[10.34,1.13],[10.45,1.02],[10.50,0.97],[10.55,0.86],[10.61,0.91],[10.66,0.86],[10.50,0.80],[10.77,1.02],[10.82,1.24],
  [11.14,1.46],[10.98,1.40]
];

var colors = {
  HumanEval: '#1f77b4',
  MBPP: '#d62728',
  OSS: '#f7b6d2',
  Alpaca: '#9edae5'
};
var dataByName = { HumanEval: humanEval, MBPP: mbpp, OSS: oss, Alpaca: alpaca };

// background groups first, code benchmarks on top
var drawOrder = ['OSS', 'Alpaca', 'HumanEval', 'MBPP'];

var tickFont = 'Liberation Serif';
var chart = echarts.init(document.getElementById('main'), null, { renderer: 'canvas' });

var option = {
  animation: false,
  backgroundColor: '#ffffff',
  grid: {
    left: 44.3, right: 7.3, top: 6.7, bottom: 44,
    show: true, borderColor: '#d0d0d0', borderWidth: 1.5, backgroundColor: 'transparent'
  },
  legend: {
    data: seriesNames,
    orient: 'vertical',
    left: 51, top: 142,
    padding: [8, 18, 8, 22],
    itemWidth: 30, itemHeight: 12, itemGap: 14,
    icon: 'circle',
    backgroundColor: 'rgba(255,255,255,0.85)',
    borderColor: '#d0d0d0', borderWidth: 1, borderRadius: 5,
    textStyle: {
      fontFamily: 'Liberation Sans', fontSize: 25, color: '#262626',
      lineHeight: 26, padding: [0, 0, 0, 34]
    }
  },
  xAxis: {
    type: 'value', min: 1.775, max: 14.30,
    axisLine: { show: false },
    axisTick: { show: false, customValues: xTicks },
    axisLabel: { customValues: xTicks, fontFamily: tickFont, fontSize: 32, color: '#262626', margin: 7 },
    splitLine: { show: true, lineStyle: { color: '#d4d4d4', width: 1.2 } }
  },
  yAxis: {
    type: 'value', min: -0.07, max: 12.71,
    axisLine: { show: false },
    axisTick: { show: false, customValues: yTicks },
    axisLabel: { customValues: yTicks, fontFamily: tickFont, fontSize: 32, color: '#262626', margin: 7 },
    splitLine: { show: true, lineStyle: { color: '#d4d4d4', width: 1.2 } }
  },
  series: drawOrder.map(function (name) {
    return {
      name: name,
      type: 'scatter',
      data: dataByName[name],
      symbol: 'circle',
      symbolSize: 9,
      itemStyle: { color: colors[name], opacity: 0.85 },
      emphasis: { disabled: true }
    };
  })
};
chart.setOption(option);
</script>
</body>
</html>
